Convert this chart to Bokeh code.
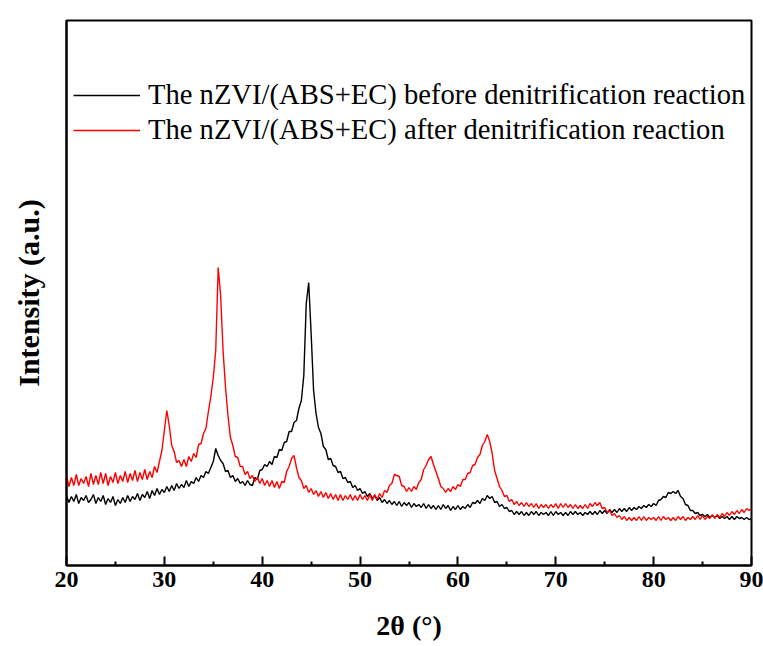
import numpy as np
from bokeh.plotting import figure
from bokeh.models import FixedTicker, Range1d
from bokeh.embed import file_html
from bokeh.resources import INLINE

# 2-theta grid (degrees), 0.25 deg step
two_theta = np.arange(20.0, 90.0 + 0.001, 0.25)

# Intensity (a.u.) before denitrification reaction (black)
before = [
    70, 63, 69, 64,   71, 62, 68, 65,   70, 63, 66, 71,   62, 68, 64, 70,
    61, 67, 63, 69,   60, 66, 62, 68,   63, 70, 64, 69,   66, 72, 65, 71,
    68, 74, 67, 75,   70, 77, 71, 76,   73, 79, 74, 80,   75, 82, 77, 81,
    78, 85, 79, 84,   82, 88, 84, 90,   88, 94, 92, 98,   104, 117, 110, 105,
    102, 94, 95, 88,  90, 84, 87, 82,   84, 80, 85, 81,   80, 88, 86, 95,
    96, 101, 99, 104, 101, 109, 108, 116, 115, 123, 124, 134, 134, 143, 145, 157,
    165, 190, 262, 283, 232, 175, 152, 138, 132, 119, 116, 106, 107, 100, 99, 93,
    94, 87, 88, 83,   84, 78, 80, 75,   77, 72, 74, 69,   72, 67, 70, 65,
    68, 63, 66, 62,   65, 61, 64, 60,   64, 59, 63, 60,   63, 58, 62, 59,
    61, 58, 62, 57,   61, 57, 60, 56,   60, 56, 61, 57,   60, 55, 59, 56,
    60, 56, 59, 57,   61, 58, 63, 62,   65, 62, 67, 65,   70, 67, 69, 63,
    64, 59, 61, 57,   58, 54, 55, 51,   54, 51, 54, 50,   53, 50, 54, 51,
    54, 50, 53, 51,   53, 50, 54, 50,   54, 51, 53, 50,   53, 50, 54, 51,
    54, 51, 53, 50,   53, 51, 54, 51,   54, 51, 55, 52,   55, 52, 56, 53,
    56, 53, 57, 54,   57, 54, 58, 55,   58, 56, 59, 57,   60, 58, 61, 59,
    62, 60, 65, 66,   69, 68, 73, 72,   74, 72, 75, 69,   67, 61, 60, 55,
    55, 52, 53, 50,   51, 49, 51, 48,   50, 48, 50, 47,   49, 47, 49, 46,
    49, 46, 49, 47,   48, 46, 48, 46,   47,
]

# Intensity (a.u.) after denitrification reaction (red)
after = [
    90, 79, 88, 80,   91, 80, 87, 82,   89, 79, 92, 81,   90, 81, 93, 82,
    92, 80, 89, 83,   93, 82, 90, 84,   94, 83, 92, 85,   95, 84, 93, 86,
    96, 86, 94, 88,   99, 93, 104, 115, 135, 155, 140, 120, 114, 103, 105, 99,
    106, 99, 109, 104, 112, 108, 121, 122, 132, 137, 154, 169, 188, 215, 298, 270,
    215, 178, 150, 128, 120, 109, 108, 99, 99, 91, 94, 87,  90, 84, 88, 82,
    87, 80, 85, 79,   85, 78, 84, 77,   84, 83, 94, 99,   107, 110, 98, 88,
    85, 77, 80, 73,   77, 71, 75, 69,   74, 68, 73, 67,   72, 66, 71, 65,
    71, 65, 70, 66,   71, 65, 70, 65,   71, 66, 70, 65,   71, 65, 71, 66,
    72, 68, 75, 73,   80, 82, 91, 90,   89, 80, 79, 74,   78, 74, 79, 76,
    83, 86, 96, 100,  106, 109, 101, 94, 87, 79, 77, 73,  77, 74, 79, 76,
    81, 79, 86, 86,   92, 93, 100, 101, 108, 111, 120, 124, 131, 124, 112, 95,
    87, 79, 75, 69,   70, 64, 66, 61,   64, 60, 63, 59,   63, 59, 62, 58,
    62, 57, 61, 58,   61, 57, 61, 58,   62, 57, 62, 58,   62, 58, 61, 57,
    61, 57, 60, 57,   61, 57, 62, 59,   63, 60, 63, 57,   58, 53, 55, 50,
    52, 48, 50, 46,   49, 45, 48, 45,   48, 45, 49, 45,   49, 45, 48, 46,
    48, 45, 49, 45,   49, 46, 48, 45,   48, 45, 49, 46,   49, 45, 48, 46,
    49, 46, 50, 46,   50, 46, 49, 47,   51, 47, 51, 48,   52, 49, 53, 50,
    54, 51, 55, 52,   56, 53, 57, 55,   57,
]

x_ticks = [20, 30, 40, 50, 60, 70, 80, 90]
x_minor_ticks = [25, 35, 45, 55, 65, 75, 85]
series_labels = [
    "The nZVI/(ABS+EC) before denitrification reaction",
    "The nZVI/(ABS+EC) after denitrification reaction",
]

FONT = "Liberation Serif"

p = figure(
    width=763, height=646,
    output_backend="svg", toolbar_location=None,
    x_range=Range1d(20, 90), y_range=Range1d(0, 545),
    min_border_left=66, min_border_right=12,
    min_border_top=20, min_border_bottom=81,
    background_fill_color="white", border_fill_color="white",
)

p.line(two_theta, before, line_color="#000000", line_width=1.4,
       legend_label=series_labels[0])
p.line(two_theta, after, line_color="#ff0000", line_width=1.4,
       legend_label=series_labels[1])

p.xgrid.visible = False
p.ygrid.visible = False
p.outline_line_color = "black"
p.outline_line_width = 2
p.outline_line_alpha = 1.0

# x axis
xa = p.xaxis[0]
xa.ticker = FixedTicker(ticks=x_ticks, minor_ticks=x_minor_ticks)
xa.axis_line_width = 2
xa.axis_line_color = "black"
xa.major_tick_in = 9
xa.major_tick_out = 0
xa.minor_tick_in = 4
xa.minor_tick_out = 0
xa.major_tick_line_width = 2
xa.minor_tick_line_width = 2
xa.major_tick_line_color = "black"
xa.minor_tick_line_color = "black"
xa.major_label_text_font = FONT
xa.major_label_text_font_style = "bold"
xa.major_label_text_font_size = "24px"
xa.major_label_text_color = "black"
xa.major_label_standoff = 6
xa.axis_label = "2θ (°)"
xa.axis_label_text_font = FONT
xa.axis_label_text_font_style = "bold"
xa.axis_label_text_font_size = "28px"
xa.axis_label_text_color = "black"
xa.axis_label_standoff = 20

# y axis
ya = p.yaxis[0]
ya.ticker = FixedTicker(ticks=[])
ya.axis_line_width = 2
ya.axis_line_color = "black"
ya.major_tick_line_color = None
ya.minor_tick_line_color = None
ya.axis_label = "Intensity (a.u.)"
ya.axis_label_text_font = FONT
ya.axis_label_text_font_style = "bold"
ya.axis_label_text_font_size = "30px"
ya.axis_label_text_color = "black"
ya.axis_label_standoff = 22

# legend
lg = p.legend[0]
lg.location = (7, 419)
lg.border_line_color = None
lg.background_fill_alpha = 0
lg.padding = 0
lg.margin = 0
lg.spacing = 3
lg.glyph_width = 67
lg.glyph_height = 32
lg.label_height = 32
lg.label_standoff = 8
lg.label_text_font = FONT
lg.label_text_font_size = "28.6px"
lg.label_text_color = "black"

open("out.html", "w").write(file_html(p, INLINE))
